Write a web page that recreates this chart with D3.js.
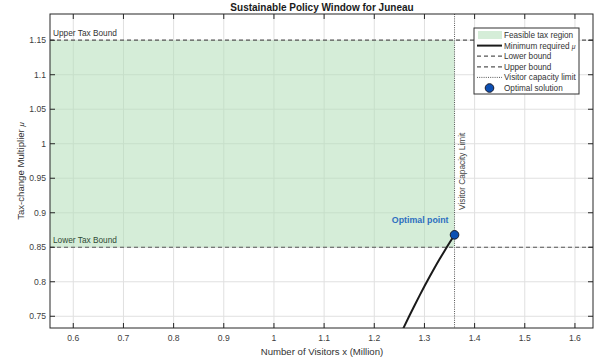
<!DOCTYPE html>
<html>
<head>
<meta charset="utf-8">
<script src="https://cdn.jsdelivr.net/npm/d3@7"></script>
<style>
  html, body { margin: 0; padding: 0; background: #fff; }
  svg { display: block; font-family: "Liberation Sans", Arial, sans-serif; }
</style>
</head>
<body>
<svg id="chart" width="598" height="362"></svg>
<script>
// Axis ticks
const xTicks = [0.6, 0.7, 0.8, 0.9, 1.0, 1.1, 1.2, 1.3, 1.4, 1.5, 1.6];
const yTicks = [0.75, 0.8, 0.85, 0.9, 0.95, 1.0, 1.05, 1.1, 1.15];
const xDomain = [0.5536, 1.636];
const yDomain = [0.733, 1.188];

// Policy bounds
const lowerBound = 0.85;
const upperBound = 1.15;
const capacityLimit = 1.36;

// Minimum required tax multiplier vs. visitors (million)
const minReqX  = [1.25, 1.26, 1.27, 1.28, 1.29, 1.30, 1.31, 1.32, 1.33, 1.34, 1.35, 1.36];
const minReqMu = [0.7202, 0.7357, 0.7507, 0.7653, 0.7796, 0.7934, 0.8068, 0.8199, 0.8325, 0.8447, 0.8566, 0.868];

// Optimal solution
const optimalX = 1.36;
const optimalMu = 0.868;

const legendLabels = ["Feasible tax region", "Minimum required ", "Lower bound", "Upper bound", "Visitor capacity limit", "Optimal solution"];

const svg = d3.select("#chart");
const L = 50, R = 593, T = 14, B = 328;

const x = d3.scaleLinear().domain(xDomain).range([L, R]);
const y = d3.scaleLinear().domain(yDomain).range([B, T]);

const axisColor = "#262626";
const tickFont = 8.6;
const feasibleFill = "rgb(178,222,184)";

// grid
const grid = svg.append("g");
grid.selectAll(".gx").data(xTicks).join("line")
  .attr("x1", d => x(d)).attr("x2", d => x(d)).attr("y1", T).attr("y2", B)
  .attr("stroke", "#e0e0e0").attr("stroke-width", 1);
grid.selectAll(".gy").data(yTicks).join("line")
  .attr("y1", d => y(d)).attr("y2", d => y(d)).attr("x1", L).attr("x2", R)
  .attr("stroke", "#e0e0e0").attr("stroke-width", 1);

// feasible region
svg.append("rect")
  .attr("x", x(xDomain[0])).attr("y", y(upperBound))
  .attr("width", x(capacityLimit) - x(xDomain[0]))
  .attr("height", y(lowerBound) - y(upperBound))
  .attr("fill", feasibleFill).attr("fill-opacity", 0.55);

// clip for plot area
svg.append("clipPath").attr("id", "plotClip")
  .append("rect").attr("x", L).attr("y", T).attr("width", R - L).attr("height", B - T);

const plot = svg.append("g").attr("clip-path", "url(#plotClip)");

// bounds
[lowerBound, upperBound].forEach(b => {
  plot.append("line")
    .attr("x1", L).attr("x2", R).attr("y1", y(b)).attr("y2", y(b))
    .attr("stroke", "#555").attr("stroke-width", 1.2).attr("stroke-dasharray", "4,3");
});

// capacity limit
plot.append("line")
  .attr("x1", x(capacityLimit)).attr("x2", x(capacityLimit)).attr("y1", T).attr("y2", B)
  .attr("stroke", "#555").attr("stroke-width", 1).attr("stroke-dasharray", "1,1.2");

// minimum required curve
const line = d3.line().x((d, i) => x(minReqX[i])).y(d => y(d)).curve(d3.curveMonotoneX);
plot.append("path")
  .attr("d", line(minReqMu))
  .attr("fill", "none").attr("stroke", "#1a1a1a").attr("stroke-width", 2);

// optimal point
plot.append("circle")
  .attr("cx", x(optimalX)).attr("cy", y(optimalMu)).attr("r", 4.3)
  .attr("fill", "#0c4fb3").attr("stroke", "#1a1a2a").attr("stroke-width", 1);

// annotations
svg.append("text").attr("x", L + 3).attr("y", y(upperBound) - 4)
  .attr("font-size", 8.3).attr("fill", "#333").text("Upper Tax Bound");
svg.append("text").attr("x", L + 3).attr("y", y(lowerBound) - 4)
  .attr("font-size", 8.3).attr("fill", "#2f4a35").text("Lower Tax Bound");
svg.append("text")
  .attr("transform", `translate(${x(capacityLimit) + 10},210) rotate(-90)`)
  .attr("font-size", 8.3).attr("fill", "#444").text("Visitor Capacity Limit");
svg.append("text")
  .attr("x", x(optimalX) - 6).attr("y", y(optimalMu) - 12)
  .attr("text-anchor", "end").attr("font-size", 8.8).attr("font-weight", "bold")
  .attr("fill", "#2d6fc0").text("Optimal point");

// axes box and ticks
const ax = svg.append("g");
ax.append("rect").attr("x", L).attr("y", T).attr("width", R - L).attr("height", B - T)
  .attr("fill", "none").attr("stroke", axisColor).attr("stroke-width", 1);

const tl = 5;
xTicks.forEach(t => {
  ax.append("line").attr("x1", x(t)).attr("x2", x(t)).attr("y1", B).attr("y2", B - tl).attr("stroke", axisColor);
  ax.append("line").attr("x1", x(t)).attr("x2", x(t)).attr("y1", T).attr("y2", T + tl).attr("stroke", axisColor);
  ax.append("text").attr("x", x(t)).attr("y", B + 13).attr("text-anchor", "middle")
    .attr("font-size", tickFont).attr("fill", "#404040").text(d3.format("")(t));
});
yTicks.forEach(t => {
  ax.append("line").attr("x1", L).attr("x2", L + tl).attr("y1", y(t)).attr("y2", y(t)).attr("stroke", axisColor);
  ax.append("line").attr("x1", R).attr("x2", R - tl).attr("y1", y(t)).attr("y2", y(t)).attr("stroke", axisColor);
  ax.append("text").attr("x", L - 4).attr("y", y(t) + 3).attr("text-anchor", "end")
    .attr("font-size", tickFont).attr("fill", "#404040").text(d3.format("")(t));
});

// title and labels
svg.append("text").attr("x", 322).attr("y", 11).attr("text-anchor", "middle")
  .attr("font-size", 10).attr("font-weight", "bold").attr("fill", "#1a1a1a")
  .text("Sustainable Policy Window for Juneau");
svg.append("text").attr("x", 322).attr("y", 355).attr("text-anchor", "middle")
  .attr("font-size", 9.6).attr("fill", "#333").text("Number of Visitors x (Million)");
const yl = svg.append("text")
  .attr("transform", `translate(24,${(T + B) / 2}) rotate(-90)`)
  .attr("text-anchor", "middle").attr("font-size", 9.6).attr("fill", "#333");
yl.append("tspan").text("Tax-change Multiplier ");
yl.append("tspan").attr("font-style", "italic").attr("font-size", 8).text("μ");

// legend
const lg = svg.append("g").attr("transform", "translate(474,28)");
lg.append("rect").attr("width", 105).attr("height", 66)
  .attr("fill", "#fff").attr("stroke", "#333").attr("stroke-width", 1);
const rowY = i => 7 + i * 10.6;
const sx0 = 3, sx1 = 28, tx = 30;
// feasible swatch
lg.append("rect").attr("x", sx0 + 1).attr("y", rowY(0) - 4).attr("width", sx1 - sx0 - 1).attr("height", 8)
  .attr("fill", feasibleFill).attr("fill-opacity", 0.55);
lg.append("line").attr("x1", sx0).attr("x2", sx1).attr("y1", rowY(1)).attr("y2", rowY(1))
  .attr("stroke", "#1a1a1a").attr("stroke-width", 2);
[2, 3].forEach(i => lg.append("line").attr("x1", sx0).attr("x2", sx1).attr("y1", rowY(i)).attr("y2", rowY(i))
  .attr("stroke", "#555").attr("stroke-width", 1.2).attr("stroke-dasharray", "4,3"));
lg.append("line").attr("x1", sx0).attr("x2", sx1).attr("y1", rowY(4)).attr("y2", rowY(4))
  .attr("stroke", "#555").attr("stroke-width", 1).attr("stroke-dasharray", "1,1.2");
lg.append("circle").attr("cx", (sx0 + sx1) / 2).attr("cy", rowY(5)).attr("r", 4.3)
  .attr("fill", "#0c4fb3").attr("stroke", "#1a1a2a").attr("stroke-width", 1);
legendLabels.forEach((s, i) => {
  const t = lg.append("text").attr("x", tx).attr("y", rowY(i) + 3)
    .attr("font-size", 8.2).attr("fill", "#333").text(s);
  if (i === 1) t.append("tspan").attr("font-style", "italic").attr("font-size", 6.8).text("μ");
});
</script>
</body>
</html>
